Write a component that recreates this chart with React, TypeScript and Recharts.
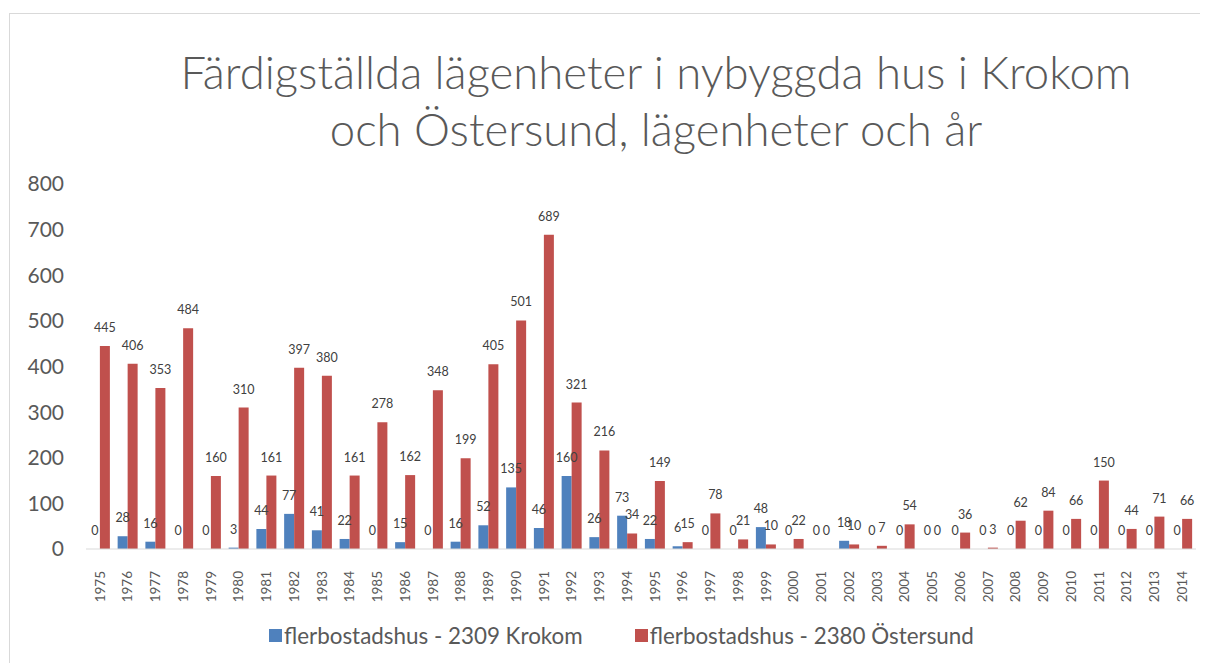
import { BarChart, Bar, XAxis, YAxis, LabelList } from "recharts";

const years = [
  "1975", "1976", "1977", "1978", "1979", "1980", "1981", "1982", "1983", "1984",
  "1985", "1986", "1987", "1988", "1989", "1990", "1991", "1992", "1993", "1994",
  "1995", "1996", "1997", "1998", "1999", "2000", "2001", "2002", "2003", "2004",
  "2005", "2006", "2007", "2008", "2009", "2010", "2011", "2012", "2013", "2014",
];
const krokom = [
  0, 28, 16, 0, 0, 3, 44, 77, 41, 22,
  0, 15, 0, 16, 52, 135, 46, 160, 26, 73,
  22, 6, 0, 0, 48, 0, 0, 18, 0, 0,
  0, 0, 0, 0, 0, 0, 0, 0, 0, 0,
];
const ostersund = [
  445, 406, 353, 484, 160, 310, 161, 397, 380, 161,
  278, 162, 348, 199, 405, 501, 689, 321, 216, 34,
  149, 15, 78, 21, 10, 22, 0, 10, 7, 54,
  0, 36, 3, 62, 84, 66, 150, 44, 71, 66,
];
const yTicks = [0, 100, 200, 300, 400, 500, 600, 700, 800];

const data = years.map((year, i) => ({ year, krokom: krokom[i], ostersund: ostersund[i] }));

const FONT = "Lato, 'Open Sans', sans-serif";
const TEXT = "#595959";
const BLUE = "#4F81BD";
const RED = "#C0504D";

function YearTick({ x, y, payload }: any) {
  return (
    <g transform={`translate(${x},${y})`}>
      <text transform="rotate(-90)" textAnchor="end" dy="0.35em" fill={TEXT} fontSize={13.5} fontFamily={FONT}>
        {payload.value}
      </text>
    </g>
  );
}

// value above each bar, zeros included
function ValueLabel(props: any) {
  const { x, y, width, height, value } = props;
  if (value === undefined || value === null) return null;
  const top = Math.min(Number(y), Number(y) + Number(height || 0));
  return (
    <text
      x={Number(x) + Number(width) / 2}
      y={top - 14}
      textAnchor="middle"
      fill="#404040"
      fontSize={12.5}
      fontFamily={FONT}
    >
      {value}
    </text>
  );
}

function LegendItem({ color, label }: { color: string; label: string }) {
  return (
    <span style={{ display: "inline-flex", alignItems: "center", marginRight: 52 }}>
      <span style={{ width: 13, height: 13, background: color, marginRight: 2, display: "inline-block" }} />
      <span>{label}</span>
    </span>
  );
}

export default function App() {
  return (
    <div
      style={{
        position: "relative",
        top: 5,
        left: 1,
        width: 1198,
        height: 653,
        border: "1px solid #d9d9d9",
        background: "#fff",
        fontFamily: FONT,
      }}
    >
      <div
        style={{
          position: "absolute",
          left: 94,
          right: 0,
          top: 29,
          textAlign: "center",
          color: TEXT,
          fontSize: 45.5,
          fontWeight: 300,
          lineHeight: "57px",
        }}
      >
        Färdigställda lägenheter i nybyggda hus i Krokom
        <br />
        och Östersund, lägenheter och år
      </div>
      <div style={{ position: "absolute", left: 0, top: 0 }}>
        <BarChart
          width={1198}
          height={653}
          data={data}
          margin={{ top: 170, right: 12, left: 0, bottom: 58 }}
          barCategoryGap="14%"
          barGap={0}
        >
          <XAxis
            dataKey="year"
            height={60}
            interval={0}
            tickLine={false}
            tickSize={0}
            tickMargin={22}
            axisLine={{ stroke: "#d9d9d9" }}
            tick={<YearTick />}
          />
          <YAxis
            width={76}
            domain={[0, 800]}
            ticks={yTicks}
            axisLine={false}
            tickLine={false}
            tickSize={0}
            tickMargin={22}
            tick={{ fill: TEXT, fontSize: 21, fontFamily: FONT }}
          />
          <Bar dataKey="krokom" fill={BLUE} minPointSize={0.01} isAnimationActive={false}>
            <LabelList dataKey="krokom" content={<ValueLabel />} />
          </Bar>
          <Bar dataKey="ostersund" fill={RED} minPointSize={0.01} isAnimationActive={false}>
            <LabelList dataKey="ostersund" content={<ValueLabel />} />
          </Bar>
        </BarChart>
      </div>
      <div
        style={{
          position: "absolute",
          left: 259,
          top: 606,
          color: TEXT,
          fontSize: 22.4,
          whiteSpace: "nowrap",
        }}
      >
        <LegendItem color={BLUE} label="flerbostadshus - 2309 Krokom" />
        <LegendItem color={RED} label="flerbostadshus - 2380 Östersund" />
      </div>
    </div>
  );
}
